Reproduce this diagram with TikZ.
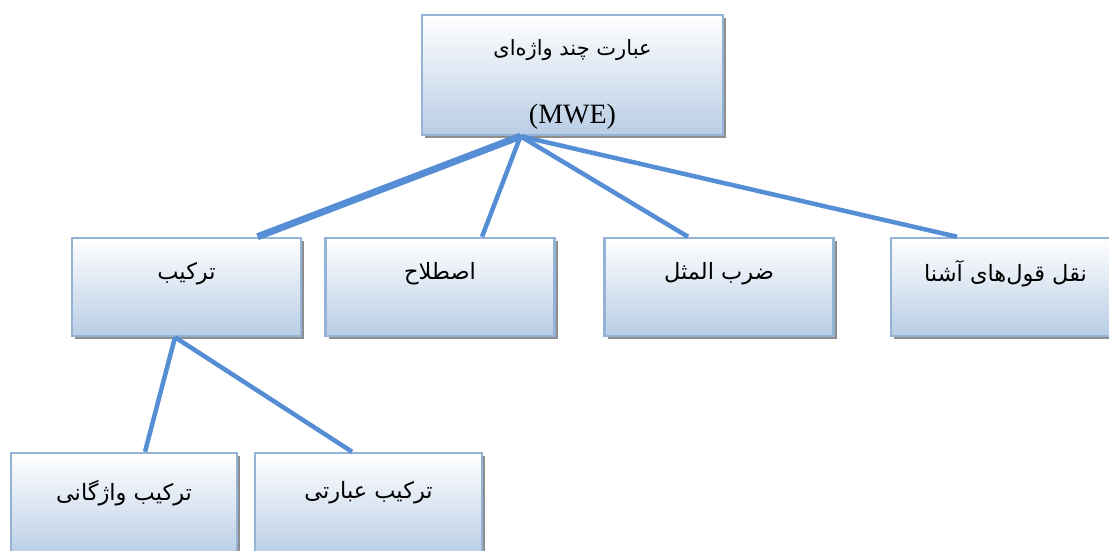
\documentclass[tikz,border=0pt]{standalone}
\usepackage{fontspec}
\usepackage{xcolor}
\usepackage{tikz}
\usetikzlibrary{shadows}
\setmainfont{Liberation Serif}
\newfontfamily\farsi[Script=Arabic]{DejaVu Sans}
\TeXXeTstate=1
\definecolor{boxedge}{HTML}{95B3D7}
\definecolor{boxlow}{HTML}{B9CDE5}
\definecolor{linkblue}{HTML}{558ED5}
\definecolor{boxshade}{HTML}{8E8E8E}

\begin{document}
\begin{tikzpicture}[x=1pt, y=-1pt,
		mwebox/.style={draw=boxedge, line width=2.5pt, top color=white, bottom color=boxlow,
			minimum width=229pt, minimum height=98pt, inner sep=0pt,
			copy shadow={shadow xshift=3pt, shadow yshift=-3pt, fill=boxshade, draw=none}},
		fa/.style={font=\farsi\fontsize{22.5}{26}\selectfont},
		link/.style={draw=linkblue, line width=4.5pt}]
			
			\clip (0,0) rectangle (1109,551);
			
			% Multi-word expression
			\node[mwebox, minimum width=301pt, minimum height=120pt] (mwe) at (572.5,75) {};
			\node[fa, font=\farsi\fontsize{21}{24}\selectfont] (mwe-fa) at (572.5,50) {\beginR عبارت چند واژه‌ای\endR};
			\node[font=\fontsize{28}{31}\selectfont] (mwe-en) at (572.5,117) {(MWE)};
			
			% Second level
			\node[mwebox] (tarkib) at (186.5,287) {};
			\node[fa] (tarkib-fa) at (186.5,274) {\beginR ترکیب\endR};
			\node[mwebox] (estelah) at (440,287) {};
			\node[fa] (estelah-fa) at (440,274) {\beginR اصطلاح\endR};
			\node[mwebox] (masal) at (719,287) {};
			\node[fa] (masal-fa) at (719,274) {\beginR ضرب المثل\endR};
			\node[mwebox] (naghl) at (1005.5,287) {};
			\node[fa] (naghl-fa) at (1005.5,274) {\beginR نقل قول‌های آشنا\endR};
			
			% Third level
			\node[mwebox, minimum width=226pt, minimum height=104pt] (vajegani) at (124,505) {};
			\node[fa] (vajegani-fa) at (124,493) {\beginR ترکیب واژگانی\endR};
			\node[mwebox, minimum width=227pt, minimum height=104pt] (ebarati) at (368.5,505) {};
			\node[fa] (ebarati-fa) at (368.5,493) {\beginR ترکیب عبارتی\endR};
			
			% Connectors
			\coordinate (mwe-root) at ([xshift=-52pt]mwe.south);
			\coordinate (tarkib-root) at ([xshift=-11.5pt]tarkib.south);
			\draw[link, line width=7pt] (mwe-root) -- ([xshift=71pt]tarkib.north);
			\draw[link] (mwe-root) -- ([xshift=42pt]estelah.north);
			\draw[link] (mwe-root) -- ([xshift=-31pt]masal.north);
			\draw[link] (mwe-root) -- ([xshift=-48.5pt]naghl.north);
			\draw[link] (tarkib-root) -- ([xshift=21pt]vajegani.north);
			\draw[link] (tarkib-root) -- ([xshift=-16.5pt]ebarati.north);
			
		\end{tikzpicture}
\end{document}
